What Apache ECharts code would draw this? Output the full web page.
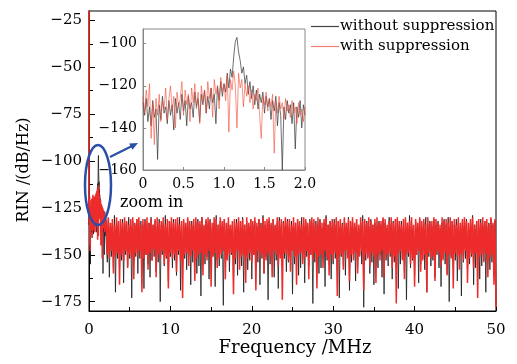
<!DOCTYPE html>
<html>
<head>
<meta charset="utf-8">
<script src="https://cdn.jsdelivr.net/npm/echarts@6/dist/echarts.min.js"></script>
<style>
  html, body { margin: 0; padding: 0; background: #fff; }
  #chart { width: 517px; height: 364px; }
</style>
</head>
<body>
<div id="chart"></div>
<script>
// level of the DC bin at 0 MHz (off the top of the axis)
const dcLevel = -5;

// 0 - 2 MHz, step 0.02 MHz (inset and low end of main plot)
const insetStep = 0.02;
const insetBlack = [
  -128, -134, -126, -137, -130, -139, -127, -135, -131, -155,
  -129, -136, -125, -133, -130, -138, -127, -134, -129, -141,
  -126, -133, -128, -136, -124, -132, -127, -139, -125, -131,
  -128, -135, -123, -130, -126, -137, -124, -129, -122, -133,
  -125, -131, -121, -128, -124, -138, -120, -127, -118, -125,
  -119, -123, -114, -121, -112, -116, -106, -99, -97, -104,
  -108, -114, -111, -119, -115, -124, -118, -126, -120, -129,
  -122, -131, -124, -128, -123, -133, -125, -130, -126, -136,
  -127, -132, -125, -139, -128, -134, -160, -130, -136, -127,
  -133, -129, -138, -128, -150, -130, -135, -127, -140, -129,
  -134
];
const insetRed = [
  -125, -133, -122, -130, -119, -145, -128, -148, -126, -134,
  -124, -137, -127, -131, -121, -136, -126, -120, -132, -125,
  -140, -123, -130, -126, -118, -134, -122, -129, -124, -137,
  -121, -128, -119, -131, -123, -138, -120, -127, -122, -133,
  -118, -126, -121, -135, -117, -124, -120, -131, -116, -123,
  -119, -127, -115, -142, -117, -122, -113, -120, -140, -114,
  -121, -117, -130, -119, -125, -120, -128, -122, -131, -124,
  -127, -121, -134, -145, -125, -129, -123, -132, -126, -130,
  -124, -152, -127, -133, -125, -131, -128, -136, -126, -132,
  -129, -135, -127, -133, -130, -138, -128, -134, -131, -137,
  -130
];

// 2.125 - 50 MHz, step 0.125 MHz (noise floor of main plot)
const bandStart = 2.125;
const bandStep = 0.125;
const bandBlack = [
  -134, -154, -131, -162, -135, -151, -133, -157, -129, -170, -134, -152, -132, -158, -136, -153,
  -131, -165, -134, -150, -133, -156, -130, -152, -135, -173, -132, -154, -134, -151, -131, -160,
  -135, -152, -132, -157, -134, -168, -131, -150, -136, -155, -133, -162, -130, -153, -134, -151,
  -132, -159, -135, -154, -131, -175, -134, -150, -133, -156, -129, -152, -135, -164, -132, -151,
  -134, -157, -131, -153, -136, -161, -133, -150, -130, -169, -134, -155, -132, -152, -135, -158,
  -131, -151, -134, -166, -132, -154, -135, -150, -133, -160, -131, -156, -134, -172, -130, -152,
  -135, -155, -132, -151, -134, -163, -131, -157, -136, -150, -133, -167, -129, -153, -134, -156,
  -132, -152, -135, -177, -131, -154, -134, -151, -133, -159, -135, -150, -132, -164, -134, -155,
  -131, -161, -133, -152, -136, -156, -130, -170, -134, -151, -132, -158, -135, -153, -131, -163,
  -134, -150, -132, -157, -135, -154, -131, -166, -133, -152, -129, -160, -134, -151, -136, -174,
  -132, -155, -134, -151, -131, -162, -135, -153, -133, -168, -130, -150, -134, -156, -132, -152,
  -135, -159, -131, -154, -134, -150, -132, -171, -136, -155, -133, -152, -131, -161, -134, -157,
  -130, -153, -135, -165, -132, -151, -134, -156, -131, -150, -133, -176, -135, -154, -132, -152,
  -134, -160, -131, -157, -136, -151, -133, -167, -129, -153, -134, -150, -132, -163, -135, -155,
  -131, -152, -134, -158, -132, -173, -135, -151, -133, -156, -131, -161, -134, -150, -130, -169,
  -135, -154, -132, -152, -134, -164, -131, -157, -136, -150, -133, -155, -129, -178, -134, -153,
  -132, -151, -135, -160, -131, -154, -134, -166, -133, -152, -135, -157, -132, -150, -134, -162,
  -131, -171, -133, -153, -136, -156, -130, -151, -134, -163, -132, -154, -135, -150, -131, -168,
  -134, -155, -132, -152, -135, -159, -131, -174, -133, -151, -129, -157, -134, -153, -136, -161,
  -132, -150, -134, -165, -131, -155, -135, -152, -133, -158, -130, -170, -134, -151, -132, -156,
  -135, -153, -131, -162, -134, -150, -132, -157, -136, -167, -133, -152, -131, -155, -134, -160,
  -130, -175, -135, -151, -132, -156, -134, -153, -131, -164, -133, -150, -135, -172, -132, -154,
  -134, -152, -131, -159, -136, -155, -133, -151, -129, -166, -134, -157, -132, -150, -135, -163,
  -131, -156, -134, -153, -132, -170, -135, -150, -133, -158, -131, -154, -134, -161, -132, -176
];
const bandRed = [
  -132, -150, -130, -152, -133, -148, -131, -160, -134, -151, -130, -149, -132, -166, -131, -150,
  -133, -153, -130, -148, -132, -157, -134, -150, -131, -152, -130, -163, -133, -149, -131, -151,
  -130, -148, -134, -170, -131, -152, -132, -150, -130, -158, -133, -149, -131, -153, -134, -147,
  -131, -162, -130, -150, -133, -152, -132, -148, -130, -155, -134, -151, -131, -168, -132, -149,
  -130, -152, -133, -150, -131, -159, -130, -148, -134, -153, -132, -173, -131, -150, -133, -149,
  -130, -156, -132, -151, -134, -148, -131, -164, -130, -152, -133, -150, -132, -149, -130, -161,
  -134, -150, -131, -153, -130, -148, -132, -167, -133, -151, -130, -149, -131, -157, -134, -152,
  -130, -150, -132, -148, -131, -163, -133, -153, -130, -150, -134, -149, -132, -171, -131, -152,
  -133, -148, -130, -158, -132, -151, -131, -150, -134, -165, -130, -152, -133, -149, -131, -154,
  -132, -150, -130, -169, -133, -148, -131, -152, -134, -150, -130, -160, -132, -153, -131, -149,
  -130, -151, -133, -162, -131, -148, -134, -150, -130, -156, -132, -152, -131, -174, -133, -149,
  -130, -150, -132, -153, -131, -159, -134, -148, -130, -151, -133, -166, -131, -150, -132, -149,
  -134, -155, -130, -152, -131, -148, -133, -163, -132, -150, -130, -153, -131, -149, -134, -168,
  -130, -151, -132, -150, -133, -157, -131, -148, -130, -152, -134, -161, -132, -150, -131, -153,
  -133, -149, -130, -172, -132, -151, -131, -150, -134, -158, -130, -148, -133, -152, -131, -164,
  -132, -150, -130, -153, -133, -149, -131, -160, -134, -151, -130, -148, -132, -169, -131, -150,
  -133, -152, -130, -156, -132, -149, -134, -151, -131, -165, -130, -150, -133, -153, -132, -148,
  -130, -162, -131, -150, -134, -152, -132, -149, -130, -157, -133, -151, -131, -176, -130, -150,
  -132, -148, -134, -153, -131, -163, -130, -150, -133, -149, -132, -155, -130, -152, -134, -167,
  -131, -150, -133, -148, -130, -159, -132, -153, -131, -150, -134, -170, -130, -149, -133, -152,
  -132, -151, -130, -164, -131, -148, -133, -150, -134, -156, -130, -153, -132, -149, -131, -161,
  -133, -150, -130, -152, -132, -168, -131, -149, -134, -151, -130, -158, -133, -150, -131, -153,
  -130, -148, -132, -165, -133, -152, -131, -150, -130, -157, -134, -149, -132, -173, -131, -151,
  -133, -150, -130, -154, -132, -149, -131, -162, -134, -152, -130, -150, -133, -166, -131, -178
];

const yMajor = [-175, -150, -125, -100, -75, -50, -25];
const yMinor = [-162.5, -137.5, -112.5, -87.5, -62.5, -37.5];
const names = ['without suppression', 'with suppression'];

const font = 'DejaVu Serif';
const blue = '#2b4ea6';
const black = '#1a1a1a';
const red = '#ee2b2b';
const minus = v => String(v).replace('-', '\u2212');

function pairs(vals, start, step) {
    return vals.map((v, i) => [+(start + i * step).toFixed(4), v]);
}

const mainBlack = [[0, dcLevel]].concat(pairs(insetBlack, 0, insetStep), pairs(bandBlack, bandStart, bandStep));
const mainRed = [[0, dcLevel]].concat(pairs(insetRed, 0, insetStep), pairs(bandRed, bandStart, bandStep));

const chart = echarts.init(document.getElementById('chart'), null, { renderer: 'canvas' });

const labelStyle = { color: '#000', fontFamily: font, fontSize: 15 };

function lineSeries(name, xi, yi, data, color, width, opacity) {
    return {
        name: name,
        type: 'line',
        xAxisIndex: xi,
        yAxisIndex: yi,
        data: data,
        color: color,
        showSymbol: false,
        symbol: 'none',
        lineStyle: { width: width, color: color, opacity: opacity }
    };
}

const option = {
    animation: false,
    backgroundColor: '#fff',
    textStyle: { fontFamily: font },
    legend: {
        data: [
            { name: names[0], itemStyle: { color: '#444' } },
            { name: names[1], itemStyle: { color: '#f08070' } }
        ],
        orient: 'vertical',
        left: 306,
        top: 14,
        icon: 'rect',
        itemWidth: 28,
        itemHeight: 1.2,
        itemGap: 5,
        selectedMode: false,
        textStyle: { color: '#000', fontFamily: font, fontSize: 15, padding: [0, 0, 0, -4] }
    },
    grid: [
        { left: 89, top: 11, width: 407, height: 300, show: true, borderColor: '#000', borderWidth: 1, backgroundColor: '#fff' },
        { left: 143, top: 29, width: 162, height: 141, show: true, borderColor: '#888', borderWidth: 1, backgroundColor: '#fff' }
    ],
    xAxis: [{
        gridIndex: 0,
        type: 'value',
        min: 0,
        max: 50,
        interval: 10,
        axisLine: { show: true, lineStyle: { color: '#000', width: 1 } },
        axisTick: { inside: true, length: 5, lineStyle: { color: '#000' } },
        minorTick: { show: true, splitNumber: 2, length: 4, lineStyle: { color: '#000' } },
        axisLabel: Object.assign({ margin: 12 }, labelStyle),
        splitLine: { show: false }
    }, {
        gridIndex: 1,
        type: 'value',
        min: 0,
        max: 2,
        interval: 0.5,
        axisLine: { show: true, lineStyle: { color: '#888', width: 1 } },
        axisTick: { inside: true, length: 3, lineStyle: { color: '#888' } },
        axisLabel: Object.assign({ margin: 7, formatter: v => v === 0 ? '0' : v.toFixed(1) }, labelStyle, { fontSize: 14 }),
        splitLine: { show: false }
    }],
    yAxis: [{
        gridIndex: 0,
        type: 'value',
        position: 'left',
        min: -180,
        max: -20,
        axisLine: { show: true, lineStyle: { color: '#000', width: 1 } },
        axisTick: { inside: true, length: 6, customValues: yMajor, lineStyle: { color: '#000' } },
        axisLabel: Object.assign({ margin: 7, customValues: yMajor, formatter: minus }, labelStyle),
        splitLine: { show: false }
    }, {
        gridIndex: 0,
        type: 'value',
        position: 'left',
        offset: 0,
        min: -180,
        max: -20,
        axisLine: { show: false },
        axisTick: { inside: true, length: 4, customValues: yMinor, lineStyle: { color: '#000' } },
        axisLabel: { show: false },
        splitLine: { show: false }
    }, {
        gridIndex: 1,
        type: 'value',
        min: -160,
        max: -93,
        interval: 20,
        axisLine: { show: true, lineStyle: { color: '#888', width: 1 } },
        axisTick: { inside: true, length: 3, lineStyle: { color: '#888' } },
        axisLabel: Object.assign({ margin: 6, formatter: minus, showMaxLabel: false }, labelStyle, { fontSize: 14 }),
        splitLine: { show: false }
    }],
    series: [
        lineSeries(names[0], 0, 0, mainBlack, black, 0.8, 1),
        lineSeries(names[1], 0, 0, mainRed, red, 1.5, 1),
        lineSeries(names[0], 1, 2, pairs(insetBlack, 0, insetStep), '#333', 0.7, 1),
        lineSeries(names[1], 1, 2, pairs(insetRed, 0, insetStep), '#ef4a36', 0.7, 0.85)
    ],
    graphic: [
        { type: 'ellipse', z: 100, shape: { cx: 98, cy: 185, rx: 13, ry: 40 }, style: { fill: 'none', stroke: blue, lineWidth: 2.5 } },
        { type: 'line', z: 100, shape: { x1: 110, y1: 157, x2: 132, y2: 146 }, style: { stroke: blue, lineWidth: 2 } },
        { type: 'polygon', z: 100, shape: { points: [[138, 143], [132.4, 149.7], [129.2, 143.5]] }, style: { fill: blue } },
        { type: 'text', z: 100, x: 120, y: 203, style: { text: 'zoom in', font: '16px "DejaVu Serif"', fill: '#000', verticalAlign: 'middle' } },
        { type: 'text', z: 100, x: 24, y: 170, rotation: Math.PI / 2, style: { text: 'RIN /(dB/Hz)', font: '16px "DejaVu Serif"', fill: '#000', align: 'center', verticalAlign: 'middle' } },
        { type: 'text', z: 100, x: 295, y: 348, style: { text: 'Frequency /MHz', font: '18px "DejaVu Serif"', fill: '#000', align: 'center', verticalAlign: 'middle' } }
    ]
};

chart.setOption(option);
</script>
</body>
</html>
